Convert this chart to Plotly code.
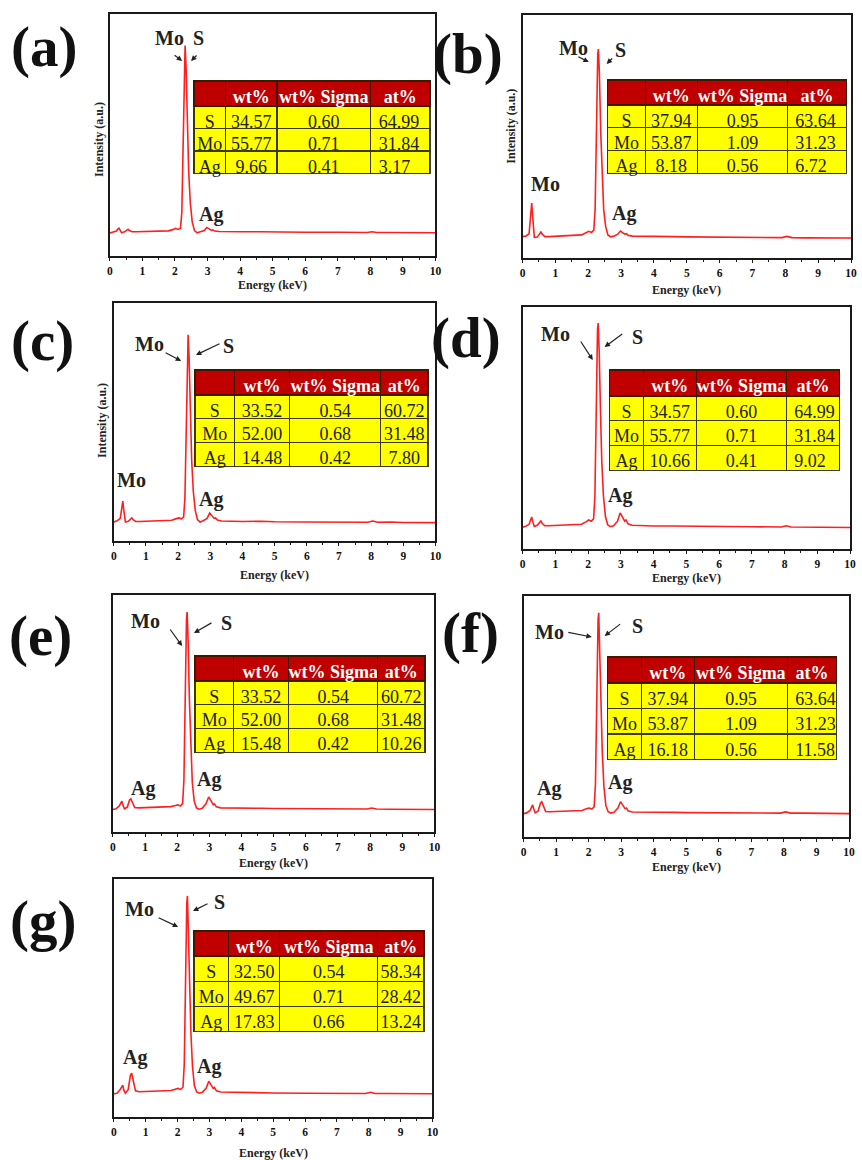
import plotly.graph_objects as go

W, H = 862, 1160

# ---------------- data ----------------
energy = [0.0, 0.1, 0.2, 0.25, 0.28, 0.31, 0.36, 0.45, 0.52, 0.56,
          0.60, 0.68, 0.8, 1.0, 1.2, 1.4, 1.6, 1.8, 1.95, 2.02,
          2.10, 2.17, 2.21, 2.25, 2.29, 2.31, 2.34, 2.38, 2.42, 2.47,
          2.53, 2.60, 2.68, 2.78, 2.90, 2.98, 3.06, 3.12, 3.16, 3.22,
          3.35, 3.6, 4.0, 4.6, 5.0, 6.0, 7.0, 7.9, 8.05, 8.2,
          8.6, 9.0, 10.0]

int_a = [9.5, 10, 10.3, 11.2, 11.5, 10.8, 9.6, 10, 10.8, 11,
         10.5, 10, 10, 10.1, 10.2, 10.2, 10.3, 10.4, 11, 11.4,
         11, 11.5, 18, 50, 85, 87, 78, 55, 35, 22,
         14, 10.5, 9.6, 10, 10.5, 11.8, 11, 10.6, 10.8, 10.3,
         10.1, 10, 10, 10, 9.9, 9.8, 9.8, 9.7, 10, 9.7,
         9.7, 9.7, 9.6]
int_b = [8.8, 9, 10, 18, 22.6, 17, 8.5, 8.6, 10.2, 10.7,
         9.8, 8.8, 8.8, 8.9, 9, 9, 9.1, 9.5, 10.5, 11,
         10.5, 11.5, 20, 55, 84, 86, 76, 52, 33, 20,
         13, 9.5, 8.7, 9, 9.8, 11.1, 10.3, 9.8, 10, 9.3,
         9, 8.9, 8.8, 8.8, 8.7, 8.6, 8.5, 8.4, 8.9, 8.4,
         8.3, 8.3, 8.2]
int_c = [8, 8.5, 9.5, 14, 16.8, 13, 8, 8.3, 9.4, 9.7,
         9, 8.2, 8.2, 8.3, 8.4, 8.4, 8.5, 8.7, 9.4, 9.7,
         9.3, 10, 18, 52, 84, 86.6, 77, 54, 34, 21,
         13, 9, 8, 8.5, 9.5, 11.8, 10.5, 9.5, 9.7, 8.8,
         8.4, 8.3, 8.2, 8.3, 8.1, 8.0, 8.0, 7.9, 8.4, 7.9,
         8, 7.8, 7.7]
int_d = [9, 9.4, 10.2, 12.5, 13.2, 11.5, 9.3, 9.8, 11.2, 11.6,
         10.6, 9.6, 9.6, 9.7, 9.8, 9.9, 10, 10.2, 11.3, 12,
         11.5, 12.5, 22, 60, 91, 93.4, 82, 57, 36, 22,
         13.5, 10, 9.2, 9.6, 11.5, 14.9, 13, 11.5, 12, 10.4,
         9.8, 9.6, 9.5, 9.5, 9.4, 9.3, 9.2, 9.1, 9.6, 9.1,
         9.0, 9.0, 8.9]
int_e = [9.5, 9.8, 11, 12.5, 13, 11.5, 9.8, 10.5, 13.5, 14,
         12.5, 10.3, 10.2, 10.3, 10.4, 10.5, 10.5, 10.7, 11.2, 11.5,
         11, 12, 22, 60, 90, 92.8, 81, 56, 35, 21,
         13, 10.2, 9.6, 10, 12, 14.8, 13, 11.5, 11.8, 10.6,
         10.2, 10.1, 10, 10, 9.9, 9.8, 9.8, 9.7, 10.1, 9.7,
         9.6, 9.6, 9.5]
int_f = [9.7, 10, 11, 12.8, 13.3, 11.8, 10, 10.8, 14, 14.6,
         13, 10.6, 10.5, 10.6, 10.7, 10.8, 10.8, 11, 11.8, 12,
         11.6, 12.5, 22, 60, 90, 93, 81, 56, 35, 21,
         13, 10.5, 9.9, 10.3, 12, 14.6, 13, 11.7, 12, 10.8,
         10.4, 10.3, 10.2, 10.2, 10.1, 10, 10, 9.9, 10.4, 9.9,
         9.9, 9.8, 9.7]
int_g = [9.8, 10, 11.5, 13, 13.4, 11.5, 10, 11.5, 17.5, 18.4,
         16, 11, 10.6, 10.7, 10.8, 10.8, 10.9, 11.1, 11.8, 12,
         11.6, 12.5, 22, 60, 90, 92.9, 81, 56, 35, 21,
         13, 10.5, 10, 10.4, 12.2, 15, 13.3, 12, 12.4, 11,
         10.5, 10.4, 10.3, 10.2, 10.1, 10, 10, 9.9, 10.4, 9.9,
         9.9, 9.8, 9.8]

x_ticks = [0, 1, 2, 3, 4, 5, 6, 7, 8, 9, 10]
x_ticklabels = ["0", "1", "2", "3", "4", "5", "6", "7", "8", "9", "10"]

table_header = ["", "wt%", "wt%\u00a0Sigma", "at%"]
elements = ["S", "Mo", "Ag"]
wt_a = [34.57, 55.77, 9.66];  sig_a = [0.60, 0.71, 0.41];  at_a = [64.99, 31.84, 3.17]
wt_b = [37.94, 53.87, 8.18];  sig_b = [0.95, 1.09, 0.56];  at_b = [63.64, 31.23, 6.72]
wt_c = [33.52, 52.00, 14.48]; sig_c = [0.54, 0.68, 0.42];  at_c = [60.72, 31.48, 7.80]
wt_d = [34.57, 55.77, 10.66]; sig_d = [0.60, 0.71, 0.41];  at_d = [64.99, 31.84, 9.02]
wt_e = [33.52, 52.00, 15.48]; sig_e = [0.54, 0.68, 0.42];  at_e = [60.72, 31.48, 10.26]
wt_f = [37.94, 53.87, 16.18]; sig_f = [0.95, 1.09, 0.56];  at_f = [63.64, 31.23, 11.58]
wt_g = [32.50, 49.67, 17.83]; sig_g = [0.54, 0.71, 0.66];  at_g = [58.34, 28.42, 13.24]

panel_labels = ["(a)", "(b)", "(c)", "(d)", "(e)", "(f)", "(g)"]
spectra = [int_a, int_b, int_c, int_d, int_e, int_f, int_g]
tables = [(wt_a, sig_a, at_a), (wt_b, sig_b, at_b), (wt_c, sig_c, at_c),
          (wt_d, sig_d, at_d), (wt_e, sig_e, at_e), (wt_f, sig_f, at_f),
          (wt_g, sig_g, at_g)]

# ---------------- layout geometry (pixels) ----------------
boxes = [(108, 437, 14, 256), (525, 857, 15, 258), (112, 437, 303, 541),
         (525, 856, 307, 549), (111, 436, 595, 832), (526, 855, 596, 837),
         (112, 434, 879, 1117)]
tbl_geo = [
    (193, 432, 81, 173, [32, 52, 95, 60], 25, 22.5, "left"),
    (611, 853, 80, 173, [38, 53, 91, 60], 25, 22.7, "left"),
    (194, 430, 370, 467, [40, 56, 92, 48], 25, 23.8, "center"),
    (613, 846, 370, 471, [34, 54, 91, 54], 26, 24.8, "left"),
    (194, 427, 656, 753, [39, 56, 90, 48], 25, 23.8, "center"),
    (611, 843, 657, 760, [34, 54, 94, 50], 26, 25.5, "left"),
    (193, 426, 931, 1032, [35, 52, 99, 47], 25, 25.1, "center"),
]
label_pos = [(41, 47), (470, 54), (40, 341), (468, 338), (38, 636), (472, 633), (40, 921)]
ylabel_pos = [(97, 139), (513, 126), (100, 420)]
xlabel_y = [285, 290, 575, 578, 863, 867, 1153]

peak_texts = [
    [("Mo", 168, 38), ("S", 198, 38), ("Ag", 210, 215)],
    [("Mo", 577, 48), ("S", 624, 50), ("Mo", 548, 184), ("Ag", 628, 214)],
    [("Mo", 148, 344), ("S", 228, 346), ("Mo", 130, 480), ("Ag", 210, 500)],
    [("Mo", 558, 334), ("S", 641, 337), ("Ag", 624, 495)],
    [("Mo", 144, 621), ("S", 226, 623), ("Ag", 141, 788), ("Ag", 208, 779)],
    [("Mo", 552, 632), ("S", 641, 626), ("Ag", 552, 788), ("Ag", 624, 782)],
    [("Mo", 138, 909), ("S", 219, 902), ("Ag", 133, 1057), ("Ag", 208, 1066)],
]
arrows = [
    [((172, 54), (181, 61)), ((197, 54), (190, 61))],
    [((580, 56), (592, 62)), ((617, 57), (610, 64))],
    [((163, 352), (180, 361)), ((220, 343), (195, 355))],
    [((583, 340), (596, 360)), ((627, 333), (608, 347))],
    [((168, 628), (181, 646)), ((212, 622), (193, 633))],
    [((570, 632), (595, 637)), ((625, 623), (608, 636))],
    [((156, 917), (177, 927)), ((208, 903), (192, 911))],
]


def px(x):
    return x / W


def py(y):
    return 1 - y / H


SERIF = "Liberation Serif, Times New Roman, serif"
fig = go.Figure()
layout = dict(width=W, height=H, margin=dict(l=0, r=0, t=0, b=0),
              paper_bgcolor="white", plot_bgcolor="white", showlegend=False)
annotations = []

for i, (spec, box) in enumerate(zip(spectra, boxes)):
    L, R, T, B = box
    sfx = "" if i == 0 else str(i + 1)
    fig.add_trace(go.Scatter(x=energy, y=spec, mode="lines",
                             line=dict(color="#FF1F1F", width=1.6),
                             xaxis="x" + sfx, yaxis="y" + sfx, hoverinfo="skip"))
    layout["xaxis" + sfx] = dict(
        domain=[px(L), px(R)], range=[0, 10], anchor="y" + sfx,
        showline=True, linecolor="#1a1a1a", linewidth=1.5, mirror=True,
        showgrid=False, zeroline=False, ticks="outside", ticklen=3.5,
        tickwidth=1.3, tickcolor="#1a1a1a",
        tickvals=x_ticks, ticktext=x_ticklabels,
        tickfont=dict(family=SERIF, size=11.5, color="#111", weight="bold"),
        minor=dict(ticks="outside", ticklen=2.5, dtick=0.5, tickcolor="#1a1a1a", tickwidth=1.2),
        ticklabelstandoff=0,
    )
    layout["yaxis" + sfx] = dict(
        domain=[py(B), py(T)], range=[0, 100], anchor="x" + sfx,
        showline=True, linecolor="#1a1a1a", linewidth=1.5, mirror=True,
        showgrid=False, zeroline=False, showticklabels=False, ticks="",
    )
    annotations.append(dict(text="<b>Energy (keV)</b>", x=px((L + R) / 2), y=py(xlabel_y[i]),
                            xref="paper", yref="paper", showarrow=False,
                            font=dict(family=SERIF, size=12, color="#222"),
                            xanchor="center", yanchor="middle"))
    lx, ly = label_pos[i]
    annotations.append(dict(text="<b>" + panel_labels[i] + "</b>", x=px(lx), y=py(ly),
                            xref="paper", yref="paper", showarrow=False,
                            font=dict(family=SERIF, size=57, color="#111"),
                            xanchor="center", yanchor="middle"))
    for (t, tx, ty) in peak_texts[i]:
        annotations.append(dict(text="<b>" + t + "</b>", x=px(tx), y=py(ty),
                                xref="paper", yref="paper", showarrow=False,
                                font=dict(family=SERIF, size=20, color="#222"),
                                xanchor="center", yanchor="middle"))
    for (tail, head) in arrows[i]:
        annotations.append(dict(text="", x=px(head[0]), y=py(head[1]),
                                xref="paper", yref="paper", showarrow=True,
                                ax=tail[0] - head[0], ay=tail[1] - head[1],
                                arrowhead=2, arrowsize=0.9, arrowwidth=1.2,
                                arrowcolor="#222"))

for (ylx, yly) in ylabel_pos:
    annotations.append(dict(text="<b>Intensity (a.u.)</b>", x=px(ylx), y=py(yly),
                            xref="paper", yref="paper", showarrow=False, textangle=-90,
                            font=dict(family=SERIF, size=12, color="#222"),
                            xanchor="center", yanchor="middle"))

for i, ((wt, sig, at), geo) in enumerate(zip(tables, tbl_geo)):
    L, R, T, B, cw, hh, rh, at_align = geo
    fig.add_trace(go.Table(
        domain=dict(x=[px(L), px(R)], y=[py(B + 12), py(T)]),
        columnwidth=cw,
        header=dict(values=table_header,
                    fill_color="#C00000", line=dict(color="#3a1a00", width=1.2),
                    font=dict(family=SERIF, size=18, color="white", weight="bold"),
                    align="center", height=hh),
        cells=dict(values=[elements, wt, sig, at],
                   format=["", ".2f", ".2f", ".2f"],
                   fill_color="#FFFF00", line=dict(color="#3a3a00", width=1.2),
                   font=dict(family=SERIF, size=18, color="#222"),
                   align=["center", "center", "center", at_align], height=rh),
    ))

layout["annotations"] = annotations
fig.update_layout(**layout)
fig.write_html("out.html")
